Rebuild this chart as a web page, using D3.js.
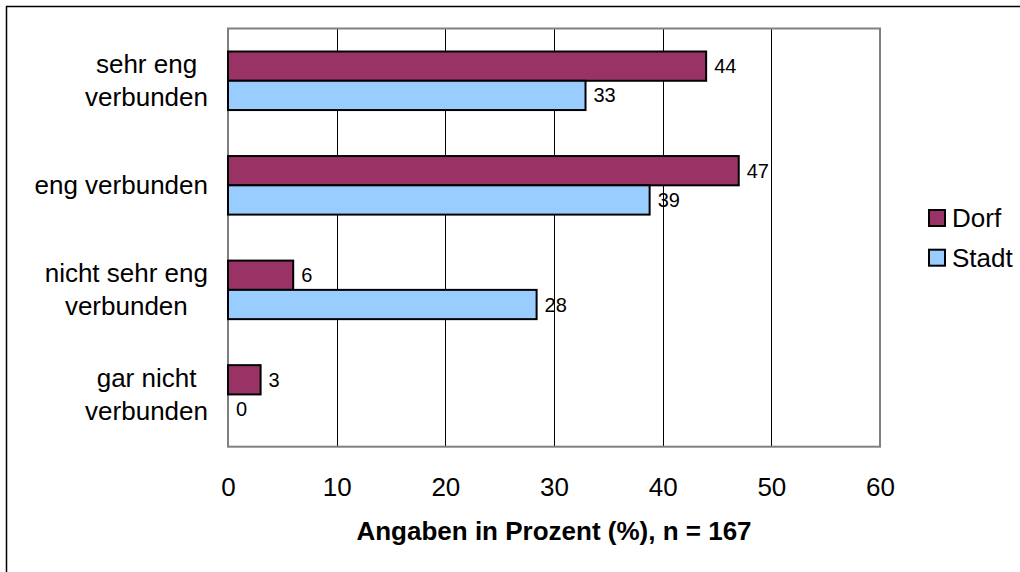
<!DOCTYPE html>
<html>
<head>
<meta charset="utf-8">
<script src="https://cdn.jsdelivr.net/npm/d3@7"></script>
<style>
  body { margin: 0; background: #fff; }
  svg text { font-family: "Liberation Sans", Arial, sans-serif; fill: #000; }
</style>
</head>
<body>
<svg id="chart" width="1020" height="572"></svg>
<script>
// data
var categories = [
  ['sehr eng', 'verbunden'],
  ['eng verbunden'],
  ['nicht sehr eng', 'verbunden'],
  ['gar nicht', 'verbunden']
];
var seriesNames = ['Dorf', 'Stadt'];
var seriesColors = ['#993366', '#99ccff'];
var dorfValues = [44, 47, 6, 3];
var stadtValues = [32.9, 38.8, 28.4, 0];
var xTicks = [0, 10, 20, 30, 40, 50, 60];
var axisTitle = 'Angaben in Prozent (%), n = 167';

var svg = d3.select('#chart');
var catKeys = categories.map(function(c) { return c.join(' '); });
var series = [dorfValues, stadtValues];

var plotLeft = 228, plotRight = 880, plotTop = 28.5, plotBottom = 446.7;
var fontSize = 26;

// outer frame (cut on right and bottom)
svg.append('rect')
  .attr('x', 6.5).attr('y', 6.5)
  .attr('width', 1200).attr('height', 1000)
  .attr('fill', 'none').attr('stroke', '#000').attr('stroke-width', 1.5);

var x = d3.scaleLinear().domain([0, 60]).range([plotLeft, plotRight]);
var y = d3.scaleBand().domain(catKeys).range([plotTop, plotBottom])
  .paddingInner(0.44).paddingOuter(0.22);
var ySub = d3.scaleBand().domain(seriesNames).range([0, y.bandwidth()]);

// gridlines
svg.append('g').selectAll('line')
  .data(xTicks.slice(1, -1))
  .enter().append('line')
  .attr('x1', function(d) { return Math.round(x(d)) + 0.5; })
  .attr('x2', function(d) { return Math.round(x(d)) + 0.5; })
  .attr('y1', plotTop).attr('y2', plotBottom)
  .attr('stroke', '#000').attr('stroke-width', 1);

// plot border
svg.append('rect')
  .attr('x', plotLeft).attr('y', plotTop)
  .attr('width', plotRight - plotLeft).attr('height', plotBottom - plotTop)
  .attr('fill', 'none').attr('stroke', '#808080').attr('stroke-width', 2);

// bars
series.forEach(function(vals, si) {
  var g = svg.append('g');
  g.selectAll('rect')
    .data(vals)
    .enter().append('rect')
    .attr('x', x(0))
    .attr('y', function(d, i) { return y(catKeys[i]) + ySub(seriesNames[si]); })
    .attr('width', function(d) { return x(d) - x(0); })
    .attr('height', ySub.bandwidth())
    .attr('fill', seriesColors[si])
    .attr('stroke', '#000')
    .attr('stroke-width', 2)
    .style('display', function(d) { return d > 0 ? null : 'none'; });

  g.selectAll('text')
    .data(vals)
    .enter().append('text')
    .attr('x', function(d) { return x(d) + 8; })
    .attr('y', function(d, i) { return y(catKeys[i]) + ySub(seriesNames[si]) + ySub.bandwidth() / 2; })
    .attr('dy', '0.35em')
    .style('font-size', '20px')
    .text(function(d) { return Math.round(d); });
});

// x axis tick labels
var xAxis = d3.axisBottom(x).tickValues(xTicks).tickSize(0).tickPadding(0);
var ax = svg.append('g')
  .attr('transform', 'translate(0,' + (plotBottom + 40) + ')')
  .call(xAxis);
ax.select('.domain').remove();
ax.selectAll('text')
  .attr('dy', '0.35em')
  .style('font-size', fontSize + 'px')
  .style('font-family', '"Liberation Sans", Arial, sans-serif')
  .attr('fill', '#000');

// axis title
svg.append('text')
  .attr('x', (plotLeft + plotRight) / 2)
  .attr('y', 531)
  .attr('dy', '0.35em')
  .attr('text-anchor', 'middle')
  .style('font-size', fontSize + 'px')
  .style('font-weight', 'bold')
  .text(axisTitle);

// category labels, lines centred in a right-aligned block
var labelRight = 208, lineGap = 33;
categories.forEach(function(lines, i) {
  var cy = y(catKeys[i]) + y.bandwidth() / 2;
  var g = svg.append('g');
  var texts = g.selectAll('text')
    .data(lines)
    .enter().append('text')
    .attr('text-anchor', 'middle')
    .attr('dy', '0.35em')
    .style('font-size', fontSize + 'px')
    .attr('y', function(d, j) { return cy + (j - (lines.length - 1) / 2) * lineGap; })
    .text(function(d) { return d; });
  var maxW = d3.max(texts.nodes(), function(n) { return n.getComputedTextLength(); });
  texts.attr('x', labelRight - maxW / 2);
});

// legend
var legend = svg.append('g').selectAll('g')
  .data(seriesNames)
  .enter().append('g')
  .attr('transform', function(d, i) { return 'translate(929,' + (218 + i * 39.7) + ')'; });
legend.append('rect')
  .attr('x', 0).attr('y', -8)
  .attr('width', 16).attr('height', 16)
  .attr('fill', function(d, i) { return seriesColors[i]; })
  .attr('stroke', '#000').attr('stroke-width', 2);
legend.append('text')
  .attr('x', 23).attr('dy', '0.35em')
  .style('font-size', fontSize + 'px')
  .text(function(d) { return d; });
</script>
</body>
</html>
